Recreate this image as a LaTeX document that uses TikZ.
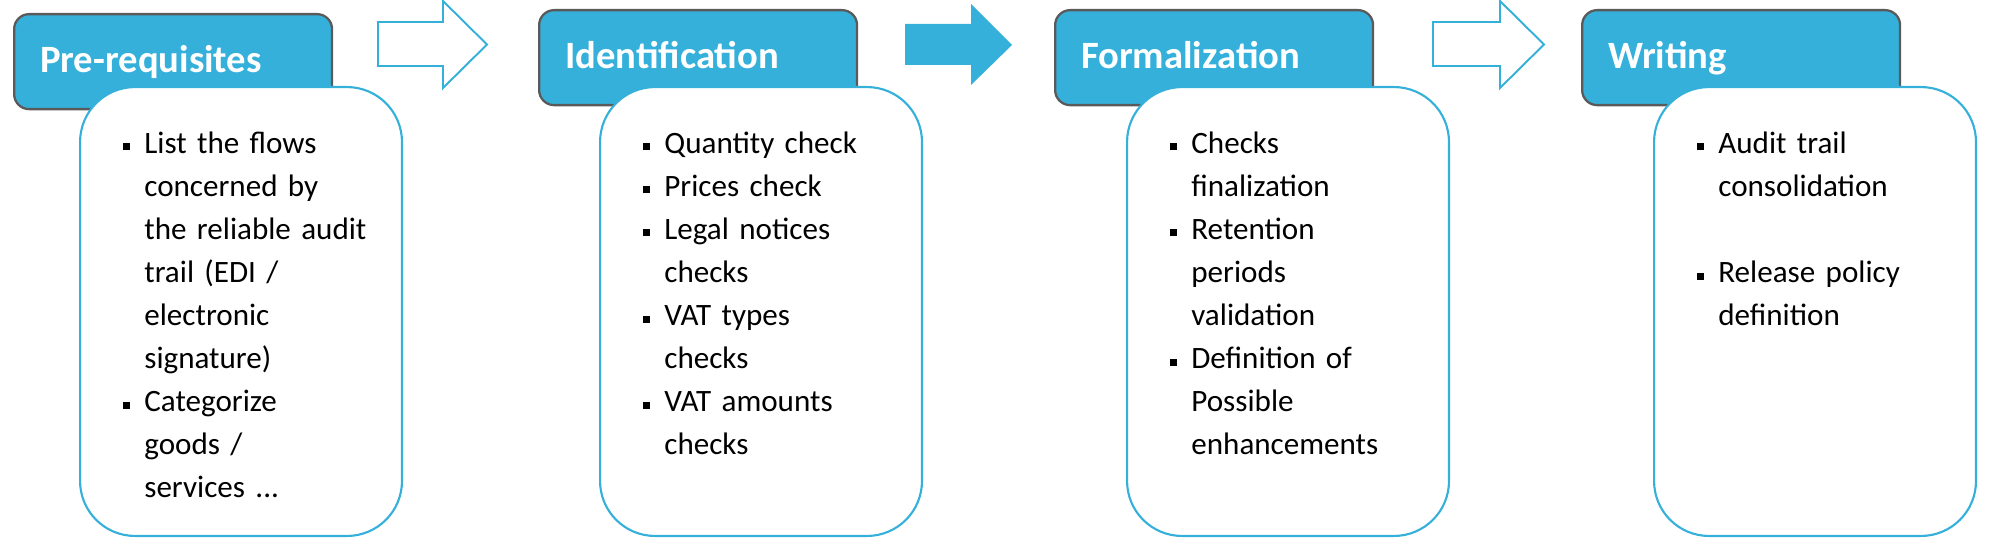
\documentclass[tikz,border=0pt]{standalone}
\usepackage{fontspec}
\setmainfont{Carlito}
\usetikzlibrary{calc}

\definecolor{stepblue}{RGB}{52,176,219}
\definecolor{framegray}{RGB}{90,90,90}

% bullet item with hanging indent
\newcommand{\bitem}{\par\noindent\hangindent=0.42cm\hangafter=1\strut\makebox[0.42cm][l]{\raisebox{0.06cm}{\rule{0.14cm}{0.14cm}}}}

\tikzset{
  header/.style={draw=framegray, fill=stepblue, line width=1.3pt, rounded corners=0.3cm,
    anchor=north west, minimum width=6.36cm, minimum height=1.9cm, inner xsep=0.52cm, inner ysep=0pt,
    text width=5.32cm, align=left, text height=0.42cm, text depth=0cm, text=white,
    font=\fontsize{22}{26}\selectfont\bfseries},
  card/.style={draw=stepblue, fill=white, line width=1.2pt, rounded corners=1.1cm,
    anchor=north west, minimum width=6.44cm, minimum height=8.98cm},
  bullets/.style={anchor=north west, inner sep=0pt, text width=5.6cm, align=left,
    font=\fontsize{17.7}{24.5}\selectfont},
  hollowarrow/.style={draw=stepblue, line width=1.1pt, fill=white},
  filledarrow/.style={fill=stepblue}
}

\begin{document}
\begin{tikzpicture}[x=0.02cm, y=-0.02cm]
  \useasboundingbox (0,0) rectangle (1991,557);

  % stage titles
  \node[header] (pre) at (13,13) {Pre-requisites};
  \node[header] (ident) at (538,9) {Identification};
  \node[header] (formal) at (1054,9) {Formalization};
  \node[header] (writ) at (1581,9) {Writing};

  % white cards
  \node[card] (c1) at (79,86) {};
  \node[card] (c2) at (599,86) {};
  \node[card] (c3) at (1126,86) {};
  \node[card] (c4) at (1653,86) {};

  \node[bullets] (l1) at ($(c1.north west)+(44,24)$) {%
    \bitem List the flows\newline concerned by\newline the reliable audit\newline trail (EDI /\newline electronic\newline signature)
    \bitem Categorize\newline goods /\newline services ...\par};
  \node[bullets] (l2) at ($(c2.north west)+(44,24)$) {%
    \bitem Quantity check
    \bitem Prices check
    \bitem Legal notices\newline checks
    \bitem VAT types\newline checks
    \bitem VAT amounts\newline checks\par};
  \node[bullets] (l3) at ($(c3.north west)+(44,24)$) {%
    \bitem Checks\newline finalization
    \bitem Retention\newline periods\newline validation
    \bitem Definition of\newline Possible\newline enhancements\par};
  \node[bullets] (l4) at ($(c4.north west)+(44,24)$) {%
    \bitem Audit trail\newline consolidation\par\vspace{\baselineskip}
    \bitem Release policy\newline definition\par};

  % arrows between the stages
  \foreach \xa/\xb/\xc in {378/443/487, 1433/1500/1544}
  {
    \draw[hollowarrow] (\xa,22) -- (\xb,22) -- (\xb,1) -- (\xc,44.5) -- (\xb,88) -- (\xb,66) -- (\xa,66) -- cycle;
  }
  \fill[filledarrow] (905,24) -- (971,24) -- (971,4) -- (1012,45) -- (971,85) -- (971,65) -- (905,65) -- cycle;

\end{tikzpicture}
\end{document}
